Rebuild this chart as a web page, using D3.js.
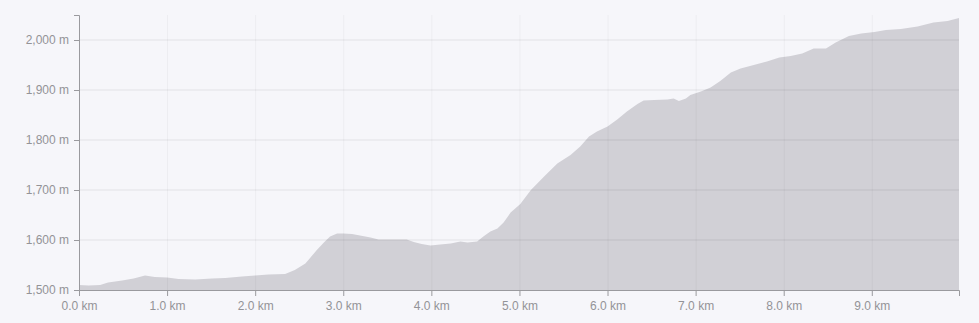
<!DOCTYPE html>
<html>
<head>
<meta charset="utf-8">
<script src="https://cdn.jsdelivr.net/npm/d3@7"></script>
<style>
  html, body { margin: 0; padding: 0; background: #f6f6fa; }
  svg { display: block; font-family: Inter, "Open Sans", sans-serif; }
</style>
</head>
<body>
<svg id="chart"></svg>
<script>
// distance along the route (km) and elevation (m)
const distanceKm = [
  0.00, 0.11, 0.24, 0.33, 0.49, 0.62, 0.75, 0.86, 1.00, 1.13, 1.32, 1.51, 1.66, 1.85, 2.00, 2.15, 2.34, 2.45,
  2.57, 2.70, 2.78, 2.85, 2.93, 3.00, 3.10, 3.19, 3.31, 3.40, 3.53, 3.65, 3.72, 3.80, 3.89, 3.99, 4.10, 4.22,
  4.33, 4.41, 4.52, 4.59, 4.67, 4.75, 4.82, 4.90, 5.01, 5.13, 5.28, 5.43, 5.58, 5.69, 5.79, 5.88, 6.00, 6.11,
  6.22, 6.34, 6.41, 6.53, 6.68, 6.75, 6.81, 6.89, 6.94, 7.06, 7.17, 7.28, 7.40, 7.51, 7.66, 7.81, 7.95, 8.08,
  8.21, 8.34, 8.48, 8.59, 8.74, 8.88, 9.03, 9.16, 9.33, 9.52, 9.70, 9.86, 9.99
];
const elevationM = [
  1510, 1509, 1510, 1515, 1519, 1523, 1529, 1526, 1525, 1522, 1521, 1523, 1524, 1527, 1529, 1531, 1532, 1540,
  1553, 1580, 1595, 1607, 1613, 1613, 1612, 1609, 1605, 1601, 1601, 1601, 1601, 1596, 1592, 1589, 1591, 1593,
  1597, 1595, 1597, 1607, 1617, 1623, 1635, 1655, 1672, 1700, 1727, 1753, 1770, 1787, 1807, 1817, 1827, 1841,
  1857, 1872, 1879, 1880, 1881, 1883, 1878, 1883, 1890, 1897, 1905, 1918, 1935, 1943, 1950, 1957, 1965, 1968,
  1973, 1983, 1983, 1995, 2008, 2013, 2016, 2020, 2022, 2027, 2035, 2038, 2044
];
const xTicks = [0, 1, 2, 3, 4, 5, 6, 7, 8, 9];
const yTicks = [1500, 1600, 1700, 1800, 1900, 2000];

const width = 979;
const height = 323;
const margin = { top: 15, right: 20, bottom: 33, left: 79 };

const svg = d3.select('#chart').attr('width', width).attr('height', height);

const x = d3.scaleLinear([0, 9.99], [margin.left, width - margin.right]);
const y = d3.scaleLinear([1500, 2050], [height - margin.bottom, margin.top]);

const idx = d3.range(distanceKm.length);

// area
const area = d3
  .area()
  .x((i) => x(distanceKm[i]))
  .y0(y(1500))
  .y1((i) => y(elevationM[i]))
  .curve(d3.curveLinear);
svg.append('path').attr('fill', '#d1d0d6').attr('d', area(idx));

// grid (drawn on top, faint)
const grid = svg.append('g').attr('stroke', '#000').attr('stroke-opacity', 0.04).attr('stroke-width', 2);
grid
  .selectAll('line.h')
  .data(yTicks.slice(1))
  .join('line')
  .attr('class', 'h')
  .attr('x1', margin.left)
  .attr('x2', width - margin.right)
  .attr('y1', (d) => y(d))
  .attr('y2', (d) => y(d));
grid
  .selectAll('line.v')
  .data(xTicks.slice(1))
  .join('line')
  .attr('class', 'v')
  .attr('stroke-width', 1)
  .attr('x1', (d) => x(d) + 0.5)
  .attr('x2', (d) => x(d) + 0.5)
  .attr('y1', margin.top)
  .attr('y2', height - margin.bottom);

// axes
const axisColor = '#9a9a9e';
const labelColor = '#939397';
const styleAxis = (g) => {
  g.select('.domain').attr('stroke', axisColor);
  g.selectAll('.tick line').attr('stroke', axisColor);
  g.selectAll('.tick text').attr('fill', labelColor).style('font-size', '12px');
};

svg
  .append('g')
  .attr('transform', `translate(0,${height - margin.bottom})`)
  .call(d3.axisBottom(x).tickValues(xTicks).tickFormat((d) => `${d3.format('.1f')(d)} km`).tickSize(6).tickPadding(5))
  .call(styleAxis);

svg
  .append('g')
  .attr('transform', `translate(${margin.left},0)`)
  .call(d3.axisLeft(y).tickValues(yTicks).tickFormat((d) => `${d3.format(',')(d)} m`).tickSize(5).tickPadding(5))
  .call(styleAxis);
</script>
</body>
</html>
